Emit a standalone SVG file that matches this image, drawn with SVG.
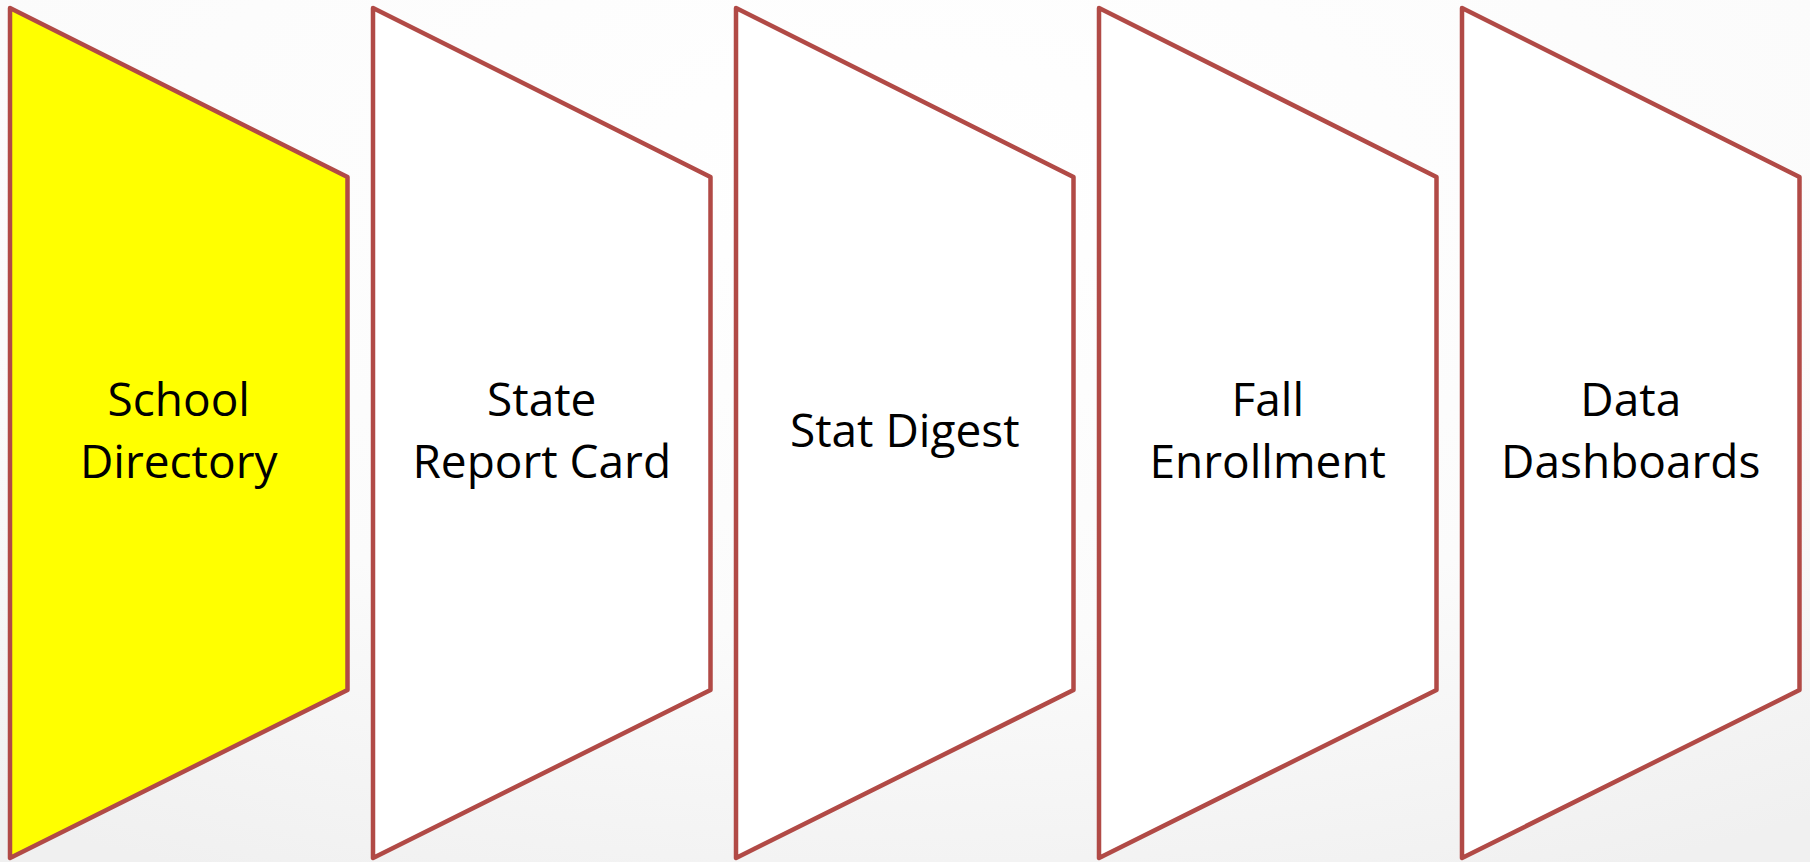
<svg xmlns="http://www.w3.org/2000/svg" width="1810" height="862" viewBox="0 0 1810 862">
  <defs>
    <radialGradient id="bg" cx="0.5" cy="0.2" r="0.9">
      <stop offset="0" stop-color="#ffffff"/>
      <stop offset="0.6" stop-color="#fbfbfb"/>
      <stop offset="1" stop-color="#f0f0f0"/>
    </radialGradient>
    <path id="shape" d="M10,8 L347.5,177 L347.5,690 L10,858 Z"/>
  </defs>
  <style>
    .shp { stroke: #B14A46; stroke-width: 4.5; stroke-linejoin: round; }
    .lbl { font-family: "Open Sans", "Liberation Sans", sans-serif; font-size: 46px; fill: #000000; text-anchor: middle; }
  </style>
  <rect x="0" y="0" width="1810" height="862" fill="url(#bg)"/>
  <g id="connectors"/>
  <g id="node-school-directory">
    <use href="#shape" class="shp" fill="#FFFF00"/>
    <text class="lbl" x="178.75" y="416">School</text>
    <text class="lbl" x="178.75" y="478">Directory</text>
  </g>
  <g id="node-state-report-card" transform="translate(363,0)">
    <use href="#shape" class="shp" fill="#FFFFFF"/>
    <text class="lbl" x="178.75" y="416">State</text>
    <text class="lbl" x="178.75" y="478">Report Card</text>
  </g>
  <g id="node-stat-digest" transform="translate(726,0)">
    <use href="#shape" class="shp" fill="#FFFFFF"/>
    <text class="lbl" x="178.75" y="447">Stat Digest</text>
  </g>
  <g id="node-fall-enrollment" transform="translate(1089,0)">
    <use href="#shape" class="shp" fill="#FFFFFF"/>
    <text class="lbl" x="178.75" y="416">Fall</text>
    <text class="lbl" x="178.75" y="478">Enrollment</text>
  </g>
  <g id="node-data-dashboards" transform="translate(1452,0)">
    <use href="#shape" class="shp" fill="#FFFFFF"/>
    <text class="lbl" x="178.75" y="416">Data</text>
    <text class="lbl" x="178.75" y="478">Dashboards</text>
  </g>
</svg>
